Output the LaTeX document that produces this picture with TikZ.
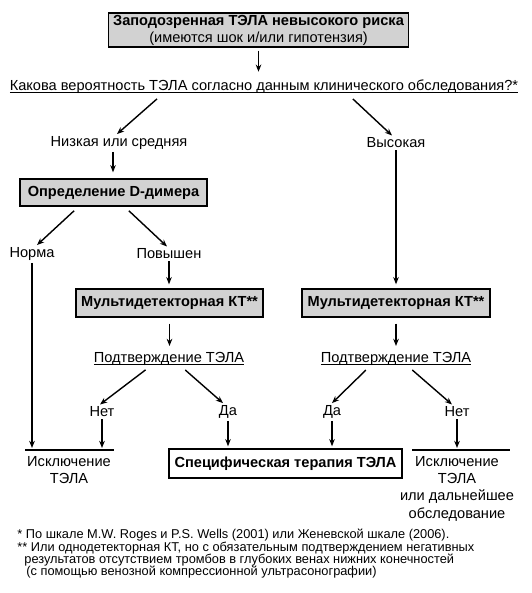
\documentclass[tikz,border=0pt]{standalone}
\usepackage{fontspec}
\setmainfont{Liberation Sans}
\usetikzlibrary{arrows.meta, positioning, calc}

% underline set close to the baseline
\newcommand{\ulinetext}[1]{\setbox0\hbox{#1}\rlap{\rule[-1pt]{\wd0}{0.5pt}}\box0}

\begin{document}
\begin{tikzpicture}[
    x=0.5pt, y=-0.5pt,
    every node/.style={font=\fontsize{7.3}{8.5}\selectfont, inner sep=1pt},
    greybox/.style={rectangle, draw, line width=0.7pt, fill=gray!35, font=\fontsize{7.3}{8.5}\selectfont\bfseries, align=center, inner sep=0pt},
    whitebox/.style={greybox, fill=white},
    answer/.style={align=center},
    exclnode/.style={align=center, inner sep=0pt, anchor=north, font=\fontsize{7.3}{8.6}\selectfont},
    arrow/.style={-{Stealth[length=3.6pt, width=2.8pt]}, line width=0.7pt},
    rule/.style={line width=0.7pt}
]
\useasboundingbox (0,0) rectangle (531,593);

% Boxes
\node[greybox, minimum width=150pt, minimum height=17pt] (suspect) at (258.5,30) {Заподозренная ТЭЛА невысокого риска\\\mdseries(имеются шок и/или гипотензия)};
\node[greybox, minimum width=93.5pt, minimum height=13.5pt] (ddimer) at (113.5,192.5) {Определение D-димера};
\node[greybox, minimum width=93.5pt, minimum height=14pt] (ctleft) at (169.5,303) {Мультидетекторная КТ**};
\node[greybox, minimum width=94pt, minimum height=14pt] (ctright) at (396,303) {Мультидетекторная КТ**};
\node[whitebox, minimum width=116.5pt, minimum height=14.5pt] (therapy) at (285.5,463.5) {Специфическая терапия ТЭЛА};

% Questions and answers
\node (question) at (264,87) {\ulinetext{Какова вероятность ТЭЛА согласно данным клинического обследования?*}};
\node[answer] (low)  at (119,143) {Низкая или средняя};
\node[answer] (high) at (396,143) {Высокая};
\node[answer] (norm) at (32,254)  {Норма};
\node[answer] (elev) at (169,254) {Повышен};
\node[answer] (confleft)  at (169,359) {\ulinetext{Подтверждение ТЭЛА}};
\node[answer] (confright) at (396,359) {\ulinetext{Подтверждение ТЭЛА}};
\node[answer] (noleft)   at (102,412) {Нет};
\node[answer] (yesleft)  at (228,412) {Да};
\node[answer] (yesright) at (332,412) {Да};
\node[answer] (noright)  at (457,412) {Нет};

% Outcomes, each under a short rule
\node[exclnode] (exclleft)  at (69,456)  {Исключение\\ТЭЛА};
\node[exclnode] (exclright) at (457,456) {Исключение\\ТЭЛА\\или дальнейшее\\обследование};
\coordinate (exclleftw)  at ([shift={(-22pt,3pt)}]exclleft.north);
\coordinate (exclrightw) at ([shift={(-22.5pt,3pt)}]exclright.north);
\draw[rule] (exclleftw) -- ++(89,0);
\draw[rule] (exclrightw) -- ++(98,0);

% Footnotes
\node[anchor=north west, align=left, inner sep=0pt, font=\fontsize{6.4}{6.15}\selectfont] (notes) at (17,529) {%
* По шкале M.W. Roges и P.S. Wells (2001) или Женевской шкале (2006).\\
** Или однодетекторная КТ, но с обязательным подтверждением негативных\\
\hspace*{3.5pt}результатов отсутствием тромбов в глубоких венах нижних конечностей\\
\hspace*{4.5pt}(с помощью венозной компрессионной ультрасонографии)};

% Connectors
\draw[arrow, shorten <=1.5pt, shorten >=3pt] (suspect) -- (suspect |- question.north);
\draw[arrow, shorten <=2pt] ([xshift=-52pt]question.south) -- ([xshift=-1pt]low.north);
\draw[arrow, shorten <=2pt] ([xshift=43pt]question.south) -- ([xshift=-2pt]high.north);
\draw[arrow, shorten >=3pt] ([xshift=-3pt]low.south) -- ([xshift=-3pt]low.south |- ddimer.north);
\draw[arrow, shorten >=2pt] (high) -- (high |- ctright.north);
\draw[arrow, shorten <=3pt] ([xshift=-17.5pt]ddimer.south) -- ([xshift=2.5pt]norm.north);
\draw[arrow, shorten <=3pt] ([xshift=5.5pt]ddimer.south) -- ([xshift=-1pt]elev.north);
\draw[arrow, shorten >=2pt] (elev) -- (elev |- ctleft.north);
\draw[arrow, shorten <=3pt, shorten >=2pt] (ctleft) -- (ctleft |- confleft.north);
\draw[arrow, shorten <=3pt, shorten >=2pt] (ctright) -- (ctright |- confright.north);
\draw[arrow, shorten <=1.5pt] ([xshift=-10.5pt]confleft.south) -- ([xshift=-1pt]noleft.north);
\draw[arrow, shorten <=1.5pt] ([xshift=7pt]confleft.south) -- ([xshift=-2.5pt]yesleft.north);
\draw[arrow, shorten <=1.5pt] ([xshift=-14pt]confright.south) -- (yesright.north);
\draw[arrow, shorten <=1.5pt] ([xshift=7pt]confright.south) -- ([xshift=-2.5pt]noright.north);
\draw[arrow, shorten >=1pt] (norm) -- (norm |- exclleftw);
\draw[arrow, shorten >=1pt] (noleft) -- (noleft |- exclleftw);
\draw[arrow, shorten >=1pt] (yesleft) -- (yesleft |- therapy.north);
\draw[arrow, shorten >=1pt] (yesright) -- (yesright |- therapy.north);
\draw[arrow, shorten >=1pt] (noright) -- (noright |- exclrightw);

\end{tikzpicture}
\end{document}
